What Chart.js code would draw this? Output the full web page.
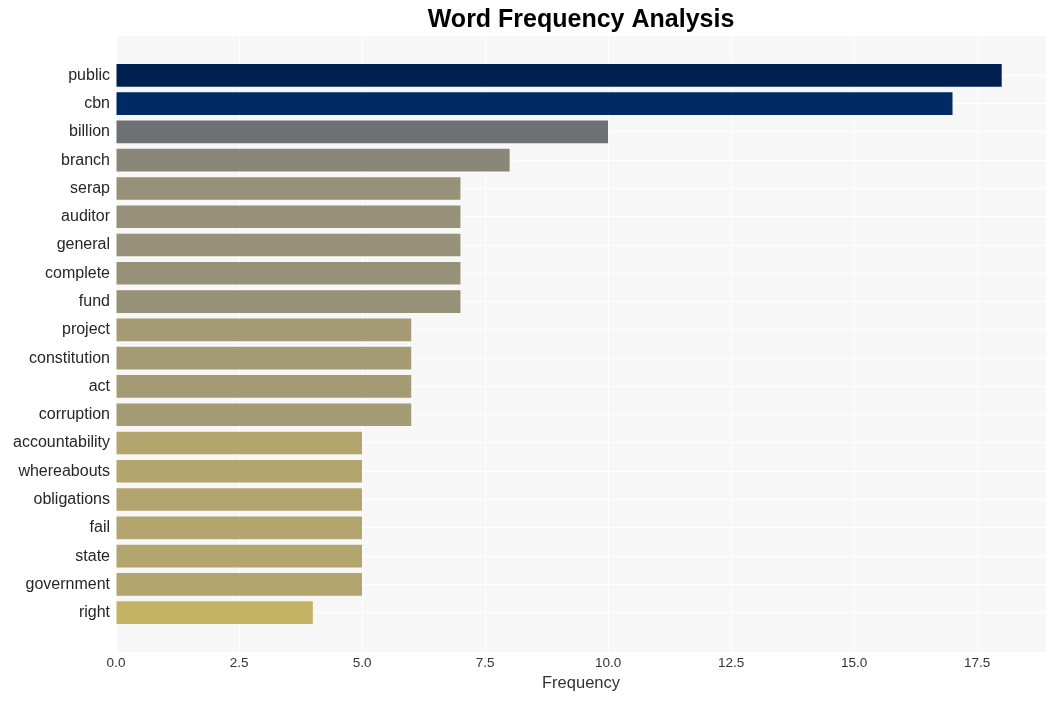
<!DOCTYPE html>
<html>
<head>
<meta charset="utf-8">
<script src="https://cdn.jsdelivr.net/npm/chart.js@4/dist/chart.umd.min.js"></script>
<style>
    html, body { margin: 0; padding: 0; background: #ffffff; }
    #wrap { width: 1055px; height: 701px; }
</style>
</head>
<body>
<div id="wrap"><canvas id="wordChart"></canvas></div>
<script>
// Kelimeler ve sıklıkları
const words = ['public', 'cbn', 'billion', 'branch', 'serap', 'auditor', 'general', 'complete', 'fund', 'project',
    'constitution', 'act', 'corruption', 'accountability', 'whereabouts', 'obligations', 'fail', 'state', 'government', 'right'];
const counts = [18, 17, 10, 8, 7, 7, 7, 7, 7, 6, 6, 6, 6, 5, 5, 5, 5, 5, 5, 4];
const barColors = ['#00214f', '#002a64', '#6f7073', '#8b8778', '#979179', '#979179', '#979179', '#979179', '#979179',
    '#a49a73', '#a49a73', '#a49a73', '#a49a73', '#b2a56e', '#b2a56e', '#b2a56e', '#b2a56e', '#b2a56e', '#b2a56e', '#c4b363'];
const xTicks = [0, 2.5, 5, 7.5, 10, 12.5, 15, 17.5];
const chartTitle = 'Word Frequency Analysis';

const FONT = "'Liberation Sans', Arial, sans-serif";

// Çizim alanı arka planı + çizim alanına göre ortalanmış başlık
const plotBackground = {
    id: 'plotBackground',
    beforeDraw(chart) {
        const a = chart.chartArea;
        const c = chart.ctx;
        c.save();
        c.fillStyle = '#f7f7f7';
        c.fillRect(a.left, a.top, a.right - a.left, a.bottom - a.top);
        c.restore();
    },
    afterDraw(chart) {
        const a = chart.chartArea;
        const c = chart.ctx;
        c.save();
        c.fillStyle = '#000000';
        c.font = 'bold 25px ' + FONT;
        c.textAlign = 'center';
        c.textBaseline = 'middle';
        c.fillText(chartTitle, (a.left + a.right) / 2, 20);
        c.restore();
    }
};

document.addEventListener('DOMContentLoaded', function() {
    const ctx = document.getElementById('wordChart');

    new Chart(ctx, {
        type: 'bar',
        data: {
            datasets: [{
                data: counts.map((v, i) => ({ x: v, y: i })),
                backgroundColor: barColors,
                borderWidth: 0,
                barPercentage: 0.8,
                categoryPercentage: 1.0
            }]
        },
        options: {
            indexAxis: 'y',
            responsive: true,
            maintainAspectRatio: false,
            animation: false,
            layout: { padding: { left: 0, right: 9, top: 36, bottom: 0 } },
            plugins: {
                legend: { display: false },
                tooltip: { enabled: false },
                title: { display: false }
            },
            scales: {
                x: {
                    type: 'linear',
                    min: 0,
                    max: 18.9,
                    afterBuildTicks: function(scale) {
                        scale.ticks = xTicks.map(v => ({ value: v }));
                    },
                    afterFit: function(scale) { scale.height = 49; },
                    grid: { color: '#ffffff', lineWidth: 1, drawTicks: false },
                    border: { display: false },
                    ticks: {
                        color: '#333333',
                        padding: 3,
                        font: { family: FONT, size: 13.5 },
                        callback: v => Number(v).toFixed(1)
                    },
                    title: {
                        display: true,
                        text: 'Frequency',
                        color: '#333333',
                        font: { family: FONT, size: 16.5 },
                        padding: { top: 1, bottom: 8 }
                    }
                },
                y: {
                    type: 'linear',
                    reverse: true,
                    offset: false,
                    min: -1.39,
                    max: 20.39,
                    afterBuildTicks: function(scale) {
                        scale.ticks = words.map((w, i) => ({ value: i }));
                    },
                    afterFit: function(scale) { scale.width = 116; },
                    grid: { color: '#ffffff', lineWidth: 1, drawTicks: false, offset: false },
                    border: { display: false },
                    ticks: {
                        color: '#262626',
                        padding: 6,
                        font: { family: FONT, size: 16 },
                        callback: v => words[v]
                    }
                }
            }
        },
        plugins: [plotBackground]
    });
});
</script>
</body>
</html>
